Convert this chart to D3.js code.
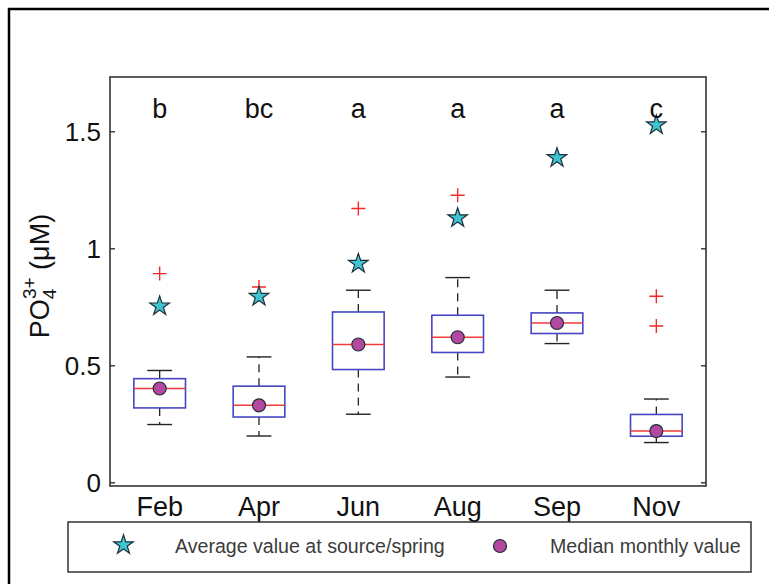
<!DOCTYPE html>
<html>
<head>
<meta charset="utf-8">
<script src="https://cdn.jsdelivr.net/npm/d3@7/dist/d3.min.js"></script>
<style>
  html, body { margin: 0; padding: 0; background: #fff; }
  svg { display: block; font-family: "Liberation Sans", Arial, sans-serif; }
</style>
</head>
<body>
<svg id="chart" width="769" height="584"></svg>
<script>
// Monthly PO4 box statistics (µM)
const months      = ["Feb", "Apr", "Jun", "Aug", "Sep", "Nov"];
const q1          = [0.320, 0.281, 0.484, 0.557, 0.638, 0.199];
const medians     = [0.403, 0.331, 0.591, 0.622, 0.683, 0.221];
const q3          = [0.445, 0.413, 0.730, 0.716, 0.726, 0.292];
const whiskerLow  = [0.249, 0.200, 0.293, 0.452, 0.595, 0.172];
const whiskerHigh = [0.480, 0.538, 0.823, 0.877, 0.823, 0.358];
const outliers    = [[0.894], [0.837], [1.172], [1.229], [], [0.797, 0.670]];
const sourceAvg   = [0.759, 0.800, 0.941, 1.136, 1.393, 1.533];
const groupLetters = ["b", "bc", "a", "a", "a", "c"];
const yTicks      = [0, 0.5, 1, 1.5];
const yTickLabels = ["0", "0.5", "1", "1.5"];
const legendLabels = ["Average value at source/spring", "Median monthly value"];

const svg = d3.select("#chart");

// frame around the figure
svg.append("rect")
  .attr("x", 9).attr("y", 9).attr("width", 820).attr("height", 640)
  .attr("fill", "none").attr("stroke", "#000").attr("stroke-width", 2.5);

const plot = { left: 110, right: 706, top: 77, bottom: 486 };

const x = d3.scaleLinear().domain([0.5, 6.5]).range([plot.left, plot.right]);
const y = d3.scaleLinear().domain([-0.0137, 1.7342]).range([plot.bottom, plot.top]);

const boxW = 0.52, capW = 0.25;
const boxColor = "#4646c4", medColor = "#f23a3a", outColor = "#f42a2a";
const starFill = "#40c4d2", dotFill = "#b4479f", markStroke = "#1f2f3a";

// whiskers: dashed stems and solid caps
months.forEach((m, i) => {
  const c = i + 1;
  const g = svg.append("g");
  g.append("line")
    .attr("x1", x(c)).attr("x2", x(c))
    .attr("y1", y(q3[i])).attr("y2", y(whiskerHigh[i]))
    .attr("stroke", "#222").attr("stroke-width", 1.3).attr("stroke-dasharray", "8,6");
  g.append("line")
    .attr("x1", x(c)).attr("x2", x(c))
    .attr("y1", y(q1[i])).attr("y2", y(whiskerLow[i]))
    .attr("stroke", "#222").attr("stroke-width", 1.3).attr("stroke-dasharray", "8,6");
  [whiskerHigh[i], whiskerLow[i]].forEach(v => {
    g.append("line")
      .attr("x1", x(c - capW / 2)).attr("x2", x(c + capW / 2))
      .attr("y1", y(v)).attr("y2", y(v))
      .attr("stroke", "#222").attr("stroke-width", 1.4);
  });
  // box
  g.append("rect")
    .attr("x", x(c - boxW / 2)).attr("width", x(c + boxW / 2) - x(c - boxW / 2))
    .attr("y", y(q3[i])).attr("height", y(q1[i]) - y(q3[i]))
    .attr("fill", "none").attr("stroke", boxColor).attr("stroke-width", 1.6);
  // median line
  g.append("line")
    .attr("x1", x(c - boxW / 2)).attr("x2", x(c + boxW / 2))
    .attr("y1", y(medians[i])).attr("y2", y(medians[i]))
    .attr("stroke", medColor).attr("stroke-width", 1.5);
  // outliers
  outliers[i].forEach(v => {
    g.append("path")
      .attr("d", `M${x(c) - 7},${y(v)}H${x(c) + 7}M${x(c)},${y(v) - 7}V${y(v) + 7}`)
      .attr("stroke", outColor).attr("stroke-width", 1.4).attr("fill", "none");
  });
});

// source averages (stars)
const star = d3.symbol().type(d3.symbolStar).size(118);
svg.append("g").selectAll("path")
  .data(sourceAvg)
  .join("path")
  .attr("d", star)
  .attr("transform", (d, i) => `translate(${x(i + 1)},${y(d) + 1})`)
  .attr("fill", starFill).attr("stroke", markStroke).attr("stroke-width", 1.2);

// median dots
svg.append("g").selectAll("circle")
  .data(medians)
  .join("circle")
  .attr("cx", (d, i) => x(i + 1)).attr("cy", d => y(d))
  .attr("r", 6.5)
  .attr("fill", dotFill).attr("stroke", markStroke).attr("stroke-width", 1.2);

// group letters
svg.append("g").selectAll("text")
  .data(groupLetters)
  .join("text")
  .attr("x", (d, i) => x(i + 1)).attr("y", 118)
  .attr("text-anchor", "middle")
  .attr("font-size", 27).attr("fill", "#111")
  .text(d => d);

// axes frame
svg.append("rect")
  .attr("x", plot.left).attr("y", plot.top)
  .attr("width", plot.right - plot.left).attr("height", plot.bottom - plot.top)
  .attr("fill", "none").attr("stroke", "#333").attr("stroke-width", 1.6);

// y ticks inward on both sides
const ticks = svg.append("g");
yTicks.forEach((t, i) => {
  ticks.append("line")
    .attr("x1", plot.left).attr("x2", plot.left + 5)
    .attr("y1", y(t)).attr("y2", y(t))
    .attr("stroke", "#333").attr("stroke-width", 1.4);
  ticks.append("line")
    .attr("x1", plot.right).attr("x2", plot.right - 5)
    .attr("y1", y(t)).attr("y2", y(t))
    .attr("stroke", "#333").attr("stroke-width", 1.4);
  ticks.append("text")
    .attr("x", 101).attr("y", y(t)).attr("dy", "0.35em")
    .attr("text-anchor", "end").attr("font-size", 26).attr("fill", "#111")
    .text(yTickLabels[i]);
});

// month labels
svg.append("g").selectAll("text")
  .data(months)
  .join("text")
  .attr("x", (d, i) => x(i + 1)).attr("y", 516)
  .attr("text-anchor", "middle").attr("font-size", 27).attr("fill", "#111")
  .text(d => d);

// y-axis title: PO4^3+ (µM)
const yTitle = svg.append("text")
  .attr("transform", "translate(49,276) rotate(-90)")
  .attr("text-anchor", "middle").attr("font-size", 27).attr("fill", "#111");
yTitle.append("tspan").text("PO");
yTitle.append("tspan").attr("font-size", 19).attr("dy", 7).text("4");
yTitle.append("tspan").attr("font-size", 19).attr("dx", -10.5).attr("dy", -20).text("3+");
yTitle.append("tspan").attr("dy", 13).text(" (\u03BCM)");

// legend
const lg = svg.append("g");
lg.append("rect")
  .attr("x", 68).attr("y", 522).attr("width", 683).attr("height", 50)
  .attr("fill", "#fff").attr("stroke", "#333").attr("stroke-width", 1.5);
lg.append("path")
  .attr("d", star)
  .attr("transform", "translate(123.5,545)")
  .attr("fill", starFill).attr("stroke", markStroke).attr("stroke-width", 1.2);
lg.append("circle")
  .attr("cx", 500).attr("cy", 546).attr("r", 6.5)
  .attr("fill", dotFill).attr("stroke", markStroke).attr("stroke-width", 1.2);
lg.append("text")
  .attr("x", 175).attr("y", 553).attr("font-size", 19.6).attr("fill", "#3c3c3c")
  .text(legendLabels[0]);
lg.append("text")
  .attr("x", 550).attr("y", 553).attr("font-size", 19.6).attr("fill", "#3c3c3c")
  .text(legendLabels[1]);
</script>
</body>
</html>
